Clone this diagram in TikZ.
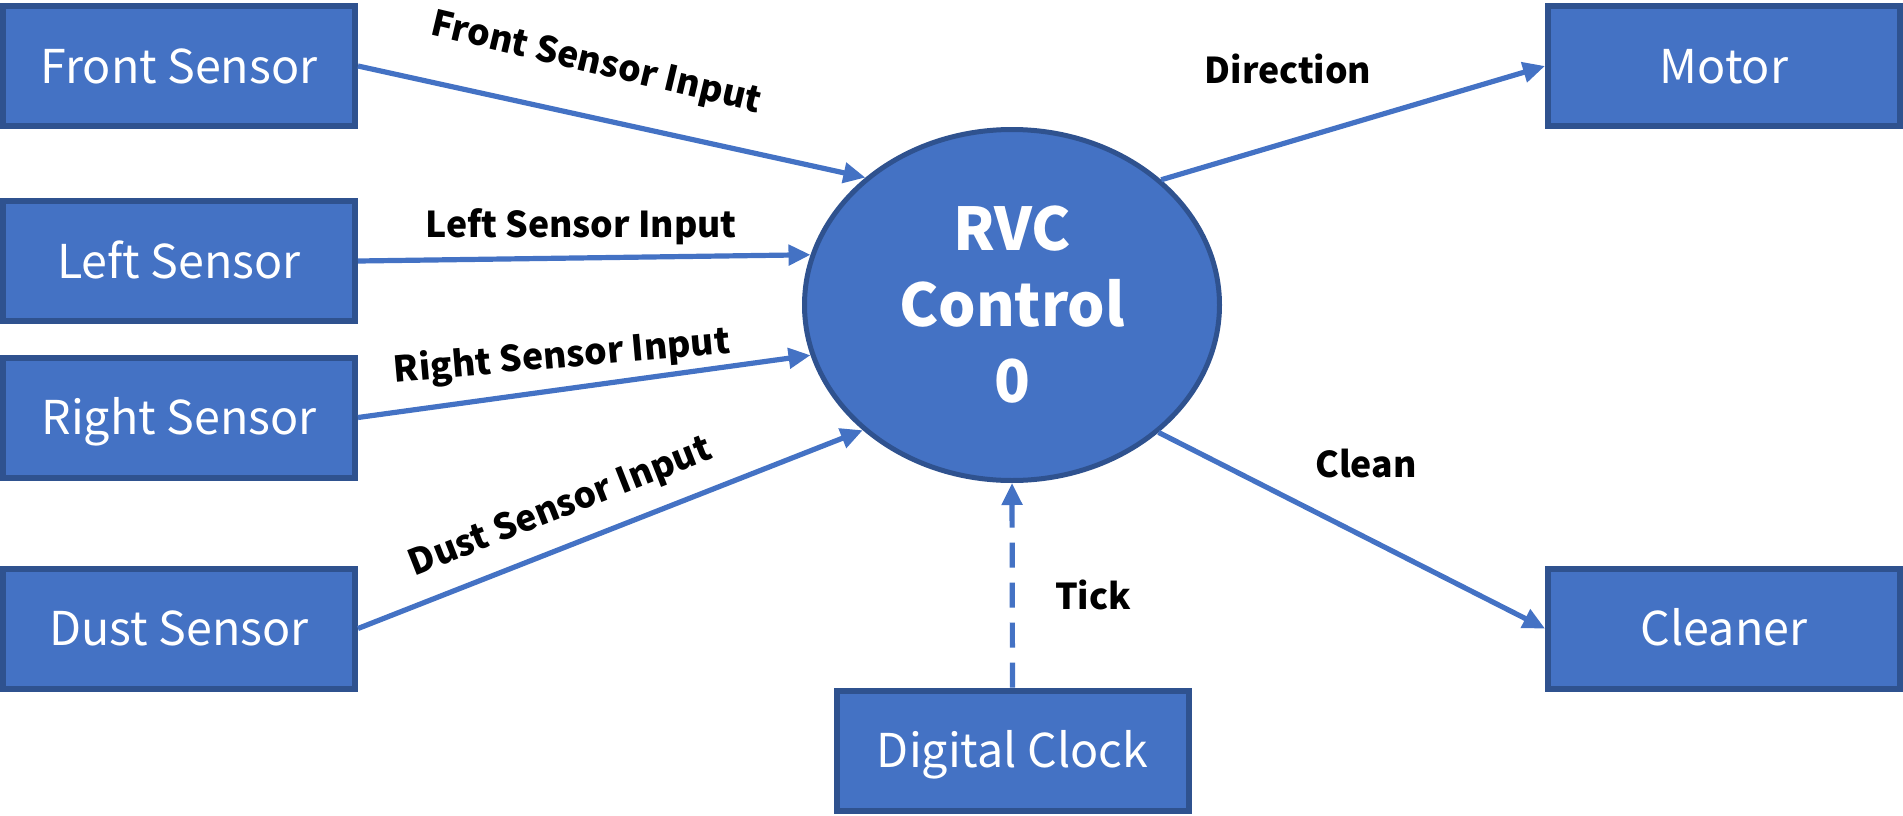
\documentclass[tikz,border=0pt]{standalone}
\usepackage{fontspec}
\setmainfont{Noto Sans CJK KR}
\usetikzlibrary{arrows.meta,shapes.geometric}
\definecolor{boxfill}{HTML}{4472C4}
\definecolor{boxline}{HTML}{2F528F}
\begin{document}
\begin{tikzpicture}[x=0.5pt,y=-0.5pt,
  ent/.style={draw=boxline, fill=boxfill, line width=3pt, minimum width=176pt, minimum height=60pt,
    inner sep=0pt, text=white, text height=17pt, text depth=0pt, font=\fontsize{23.3}{28}\selectfont},
  proc/.style={ellipse, draw=boxline, fill=boxfill, line width=2.5pt, minimum width=207.5pt,
    minimum height=175.5pt, inner sep=0pt, text=white, align=center,
    font=\bfseries\fontsize{29.5}{38}\selectfont},
  flow/.style={draw=boxfill, line width=2.6pt, -{Triangle[length=11pt,width=10pt]}},
  lbl/.style={font=\bfseries\fontsize{17.8}{22}\selectfont, inner sep=0pt, text=black}]
\useasboundingbox (0,0) rectangle (1903,815);

\node[ent] (front) at (179,66) {Front Sensor};
\node[ent] (left) at (179,261) {Left Sensor};
\node[ent] (right) at (179,417.5) {Right Sensor};
\node[ent] (dust) at (179,628.5) {Dust Sensor};
\node[ent] (motor) at (1724,66) {Motor};
\node[ent] (cleaner) at (1724,628.5) {Cleaner};
\node[ent] (clock) at (1012.5,750.5) {Digital Clock};

\node[proc] (ctrl) at (1012,305) {RVC\\Control\\0};

\draw[flow] (front.east) -- (ctrl.139.4);
\draw[flow] (left.east) -- (ctrl.166.9);
\draw[flow] (right.east) -- (ctrl.194.6);
\draw[flow] (dust.east) -- (ctrl.220.4);
\draw[flow] (ctrl.40.6) -- (motor.west);
\draw[flow] (ctrl.319.7) -- (cleaner.west);
\draw[flow, dash pattern=on 12.5pt off 7.5pt] (clock.north) -- (ctrl.south);

\node[lbl, rotate=-13.4] (lf) at (596,64) {Front Sensor Input};
\node[lbl, anchor=base] (ll) at (581,237) {Left Sensor Input};
\node[lbl, rotate=5] (lr) at (562,357) {Right Sensor Input};
\node[lbl, rotate=21.5] (ld) at (561,508) {Dust Sensor Input};
\node[lbl, anchor=base] (lm) at (1288,83) {Direction};
\node[lbl, anchor=base] (lc) at (1366,477) {Clean};
\node[lbl, anchor=base] (lt) at (1093,609) {Tick};
\end{tikzpicture}
\end{document}
